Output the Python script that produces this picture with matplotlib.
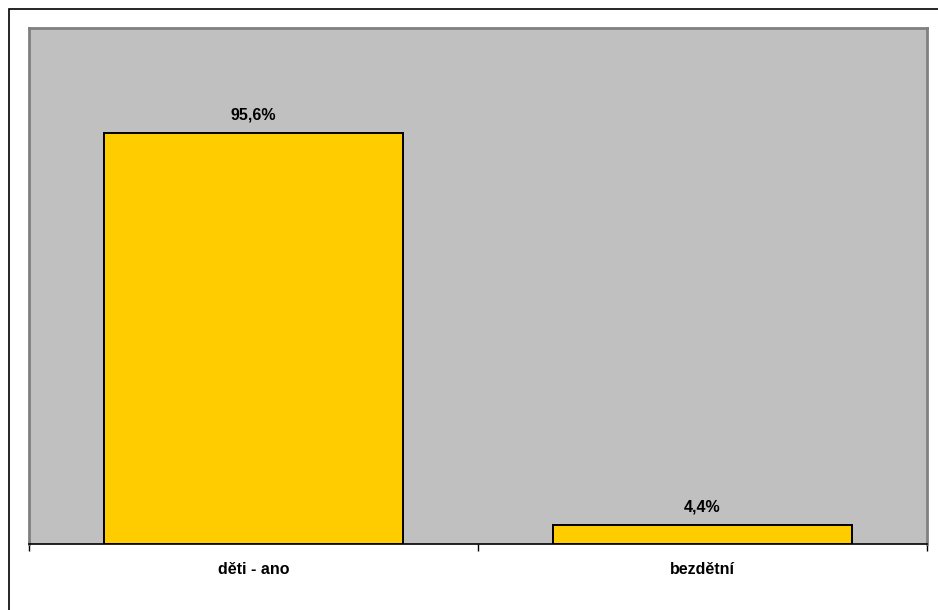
import matplotlib
matplotlib.use('Agg')
import matplotlib.pyplot as plt
from matplotlib.patches import Rectangle

categories = ["děti - ano", "bezdětní"]
values = [95.6, 4.4]
value_labels = ["95,6%", "4,4%"]

plt.rcParams['font.family'] = ['Liberation Sans', 'DejaVu Sans']

fig = plt.figure(figsize=(9.38, 6.10), dpi=100)

# outer chart frame (right/bottom edges run off the image)
fig.patches.append(Rectangle((9 / 938, -0.01), 1.0, 1 - 9 / 610 + 0.01,
                             transform=fig.transFigure, fill=False,
                             edgecolor='black', linewidth=1.2))

ax = fig.add_axes([29 / 938, 1 - 544 / 610, (927 - 29) / 938, (544 - 28) / 610])
ax.set_facecolor('#C0C0C0')

x = range(len(categories))
ax.bar(x, values, width=0.668, color='#FFCC00', edgecolor='black', linewidth=1.4, zorder=3)

for i, (v, lab) in enumerate(zip(values, value_labels)):
    ax.text(i, v + 4.2, lab, ha='center', va='center', fontsize=11.5, fontweight='bold')

ax.set_xlim(-0.5, 1.5)
ax.set_ylim(0, 120)
ax.set_yticks([])
ax.set_xticks([-0.5, 0.5, 1.5], minor=False)
ax.set_xticklabels([])
ax.set_xticks(list(x), minor=True)
ax.set_xticklabels(categories, minor=True, fontsize=11.5, fontweight='bold')
ax.tick_params(axis='x', which='major', length=5, width=1, color='black', direction='out')
ax.tick_params(axis='x', which='minor', length=0, pad=13)

for side in ['top', 'left', 'right']:
    ax.spines[side].set_color('#808080')
    ax.spines[side].set_linewidth(2)
ax.spines['bottom'].set_color('black')
ax.spines['bottom'].set_linewidth(1.2)

fig.savefig('out.png', dpi=100)
plt.close(fig)
